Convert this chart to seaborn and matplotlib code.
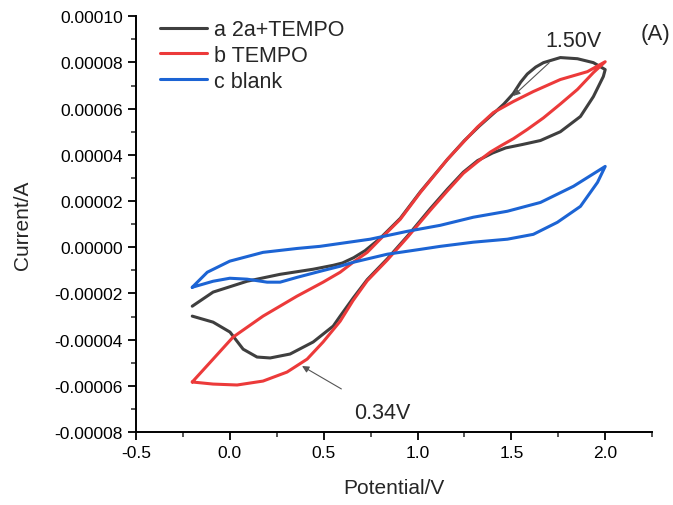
import pandas as pd
import numpy as np
import matplotlib
matplotlib.use("Agg")
import matplotlib.pyplot as plt
import seaborn as sns
from matplotlib.ticker import MultipleLocator, FormatStrFormatter

# potentials (V) and currents (in 1e-5 A), loop order
x_a = [-0.2, -0.089, 0.092, 0.268, 0.444, 0.551, 0.60, 0.66, 0.72, 0.80, 0.908, 1.015,
       1.159, 1.25, 1.33, 1.42, 1.46, 1.51, 1.55, 1.585, 1.63, 1.671, 1.761, 1.852,
       1.937, 2.0,
       1.99, 1.937, 1.868, 1.761, 1.655, 1.56, 1.47, 1.40, 1.32, 1.244, 1.16, 1.068,
       0.945, 0.839, 0.732, 0.657, 0.588, 0.551, 0.444, 0.321, 0.215, 0.145, 0.071,
       0.001, -0.089, -0.2]
y_a = [-2.55, -1.94, -1.47, -1.17, -0.95, -0.78, -0.68, -0.45, -0.15, 0.38, 1.25, 2.4,
       3.8, 4.62, 5.25, 5.9, 6.2, 6.65, 7.15, 7.5, 7.8, 7.99, 8.21, 8.16,
       7.99, 7.69,
       7.39, 6.52, 5.66, 5.0, 4.62, 4.45, 4.3, 4.08, 3.75, 3.25, 2.52, 1.67,
       0.47, -0.5, -1.4, -2.2, -2.98, -3.41, -4.10, -4.62, -4.79, -4.75, -4.41,
       -3.67, -3.24, -2.98]

x_b = [-0.2, -0.089, 0.017, 0.177, 0.357, 0.497, 0.588, 0.657, 0.732, 0.801, 0.908,
       1.015, 1.159, 1.25, 1.319, 1.404, 1.511, 1.617, 1.761, 1.905, 2.0,
       1.937, 1.852, 1.761, 1.671, 1.585, 1.511, 1.45, 1.388, 1.32, 1.244, 1.16, 1.068,
       0.945, 0.839, 0.732, 0.657, 0.588, 0.497, 0.412, 0.305, 0.177, 0.039, -0.089, -0.2]
y_b = [-5.83, -4.84, -3.89, -2.98, -2.12, -1.51, -1.08, -0.65, -0.22, 0.35, 1.21,
       2.37, 3.80, 4.6, 5.2, 5.83, 6.31, 6.74, 7.26, 7.6, 8.03,
       7.56, 6.83, 6.2, 5.6, 5.1, 4.7, 4.42, 4.12, 3.7, 3.2, 2.45, 1.6,
       0.42, -0.55, -1.45, -2.3, -3.2, -4.10, -4.84, -5.40, -5.79, -5.96, -5.92, -5.83]

x_c = [-0.2, -0.12, 0.0, 0.177, 0.36, 0.48, 0.748, 0.945, 1.121, 1.297, 1.479, 1.655,
       1.831, 2.0, 1.959, 1.868, 1.745, 1.617, 1.479, 1.297, 1.121, 1.015, 0.839,
       0.657, 0.588, 0.481, 0.359, 0.268, 0.199, 0.092, 0.0, -0.089, -0.2]
y_c = [-1.73, -1.08, -0.60, -0.22, -0.05, 0.04, 0.35, 0.69, 0.95, 1.30, 1.56, 1.94,
       2.64, 3.50, 2.81, 1.77, 1.08, 0.56, 0.35, 0.22, 0.04, -0.09, -0.30,
       -0.65, -0.82, -1.04, -1.30, -1.51, -1.51, -1.38, -1.34, -1.47, -1.73]

labels = ["a 2a+TEMPO", "b TEMPO", "c blank"]
colors = ["#3f3f3f", "#ec3a3a", "#1c64d4"]

frames = []
for lab, xs, ys in zip(labels, [x_a, x_b, x_c], [y_a, y_b, y_c]):
    frames.append(pd.DataFrame({"Potential": xs, "Current": np.array(ys) * 1e-5,
                                "sample": lab}))
df = pd.concat(frames, ignore_index=True)

sns.set_style("ticks")
plt.rcParams["font.family"] = ["Liberation Sans", "DejaVu Sans"]
plt.rcParams["axes.unicode_minus"] = False

fig = plt.figure(figsize=(6.73, 5.06), dpi=100)
ax = fig.add_axes([0.202, 0.144, 0.767, 0.822])

sns.lineplot(data=df, x="Potential", y="Current", hue="sample", palette=colors,
             sort=False, estimator=None, units="sample", linewidth=2.2, ax=ax, legend=False)

ax.set_xlim(-0.5, 2.25)
ax.set_ylim(-0.00008, 0.0001)
ax.xaxis.set_major_locator(MultipleLocator(0.5))
ax.xaxis.set_minor_locator(MultipleLocator(0.25))
ax.yaxis.set_major_locator(MultipleLocator(0.00002))
ax.yaxis.set_minor_locator(MultipleLocator(0.00001))
ax.xaxis.set_major_formatter(FormatStrFormatter("%.1f"))
ax.yaxis.set_major_formatter(FormatStrFormatter("%.5f"))
ax.tick_params(which="major", direction="out", length=6, width=1.3, labelsize=12.5, colors="black")
ax.tick_params(which="minor", direction="out", length=3.5, width=1.1)
for s in ["top", "right"]:
    ax.spines[s].set_visible(False)
for s in ["left", "bottom"]:
    ax.spines[s].set_linewidth(1.4)
    ax.spines[s].set_color("black")

ax.set_xlabel("Potential/V", fontsize=15, labelpad=13)
ax.set_ylabel("Current/A", fontsize=15, labelpad=16)

handles = [plt.Line2D([], [], color=c, lw=2.2) for c in colors]
ax.legend(handles, labels, loc="upper left", bbox_to_anchor=(0.0465, 0.993), frameon=False,
          fontsize=15.5, handlelength=2.2, handletextpad=0.3, labelspacing=0.22,
          borderpad=0, borderaxespad=0)

ax.annotate("1.50V", xy=(1.51, 6.55e-5), xytext=(1.83, 8.95e-5), fontsize=15.5,
            ha="center", va="center",
            arrowprops=dict(arrowstyle="-|>", color="#555555", lw=0.8,
                            mutation_scale=10, shrinkA=9, shrinkB=0))
ax.annotate("0.34V", xy=(0.385, -5.14e-5), xytext=(0.81, -7.15e-5), fontsize=15.5,
            ha="center", va="center",
            arrowprops=dict(arrowstyle="-|>", color="#555555", lw=0.8,
                            mutation_scale=10, shrinkA=14, shrinkB=0))
ax.text(2.27, 9.25e-5, "(A)", fontsize=16, ha="center", va="center", clip_on=False)

fig.savefig("out.png", dpi=100)
